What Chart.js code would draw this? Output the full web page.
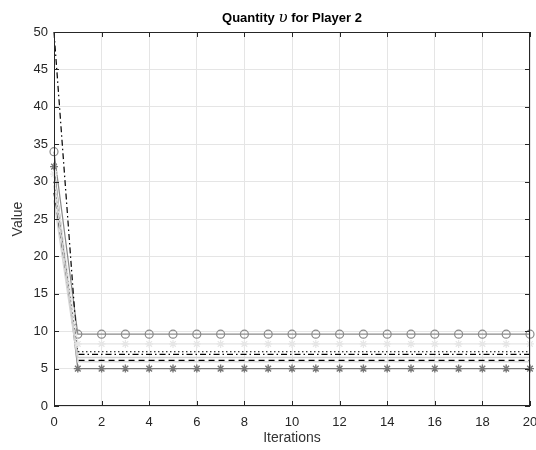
<!DOCTYPE html>
<html>
<head>
<meta charset="utf-8">
<script src="https://cdn.jsdelivr.net/npm/chart.js@4"></script>
<style>
  html, body { margin: 0; padding: 0; background: #fff; }
  #wrap { width: 536px; height: 450px; }
</style>
</head>
<body>
<div id="wrap"><canvas id="myChart"></canvas></div>
<script>
"use strict";

// iterations 0..20
const iterations = [0, 1, 2, 3, 4, 5, 6, 7, 8, 9, 10, 11, 12, 13, 14, 15, 16, 17, 18, 19, 20];

// start value, then the flat level reached after the first iteration
const circleSeries   = [34.0, 9.6, 9.6, 9.6, 9.6, 9.6, 9.6, 9.6, 9.6, 9.6, 9.6, 9.6, 9.6, 9.6, 9.6, 9.6, 9.6, 9.6, 9.6, 9.6, 9.6];
const faintStar      = [31.0, 8.3, 8.3, 8.3, 8.3, 8.3, 8.3, 8.3, 8.3, 8.3, 8.3, 8.3, 8.3, 8.3, 8.3, 8.3, 8.3, 8.3, 8.3, 8.3, 8.3];
const dottedSeries   = [30.0, 7.25, 7.25, 7.25, 7.25, 7.25, 7.25, 7.25, 7.25, 7.25, 7.25, 7.25, 7.25, 7.25, 7.25, 7.25, 7.25, 7.25, 7.25, 7.25, 7.25];
const dashDotSeries  = [50.0, 6.9, 6.9, 6.9, 6.9, 6.9, 6.9, 6.9, 6.9, 6.9, 6.9, 6.9, 6.9, 6.9, 6.9, 6.9, 6.9, 6.9, 6.9, 6.9, 6.9];
const lightSeries1   = [29.5, 6.5, 6.5, 6.5, 6.5, 6.5, 6.5, 6.5, 6.5, 6.5, 6.5, 6.5, 6.5, 6.5, 6.5, 6.5, 6.5, 6.5, 6.5, 6.5, 6.5];
const dashedSeries   = [28.5, 6.1, 6.1, 6.1, 6.1, 6.1, 6.1, 6.1, 6.1, 6.1, 6.1, 6.1, 6.1, 6.1, 6.1, 6.1, 6.1, 6.1, 6.1, 6.1, 6.1];
const lightSeries2   = [27.5, 5.9, 5.9, 5.9, 5.9, 5.9, 5.9, 5.9, 5.9, 5.9, 5.9, 5.9, 5.9, 5.9, 5.9, 5.9, 5.9, 5.9, 5.9, 5.9, 5.9];
const starSeries     = [32.0, 5.0, 5.0, 5.0, 5.0, 5.0, 5.0, 5.0, 5.0, 5.0, 5.0, 5.0, 5.0, 5.0, 5.0, 5.0, 5.0, 5.0, 5.0, 5.0, 5.0];

const xTicks = [0, 2, 4, 6, 8, 10, 12, 14, 16, 18, 20];
const yTicks = [0, 5, 10, 15, 20, 25, 30, 35, 40, 45, 50];

function pts(arr) {
	return arr.map(function (v, i) { return { x: iterations[i], y: v }; });
}

function line(data, color, opts) {
	return Object.assign({
		data: pts(data),
		borderColor: color,
		backgroundColor: 'rgba(0,0,0,0)',
		pointBorderColor: color,
		borderWidth: 1.2,
		pointRadius: 0,
		tension: 0,
		clip: false
	}, opts || {});
}

// MATLAB-like box, inward ticks and mixed-font title
const boxPlugin = {
	id: 'box',
	afterDraw: function (chart) {
		const c = chart.ctx, a = chart.chartArea;
		const xs = chart.scales.x, ys = chart.scales.y;
		c.save();
		c.strokeStyle = '#262626';
		c.lineWidth = 1;
		c.strokeRect(a.left + 0.5, a.top + 0.5, a.right - a.left - 1, a.bottom - a.top - 1);
		c.beginPath();
		xTicks.forEach(function (t) {
			const px = Math.round(xs.getPixelForValue(t)) + 0.5;
			c.moveTo(px, a.bottom); c.lineTo(px, a.bottom - 5);
			c.moveTo(px, a.top); c.lineTo(px, a.top + 5);
		});
		yTicks.forEach(function (t) {
			const py = Math.round(ys.getPixelForValue(t)) + 0.5;
			c.moveTo(a.left, py); c.lineTo(a.left + 5, py);
			c.moveTo(a.right, py); c.lineTo(a.right - 5, py);
		});
		c.stroke();

		// title
		const parts = [
			{ t: 'Quantity ', f: 'bold 13px "Liberation Sans", Arial, sans-serif' },
			{ t: '\u03C5', f: 'italic 15px "DejaVu Serif", "Liberation Serif", serif' },
			{ t: ' for Player 2', f: 'bold 13px "Liberation Sans", Arial, sans-serif' }
		];
		let total = 0;
		parts.forEach(function (p) { c.font = p.f; p.w = c.measureText(p.t).width; total += p.w; });
		let x = (a.left + a.right) / 2 - total / 2;
		c.fillStyle = '#000';
		c.textBaseline = 'alphabetic';
		parts.forEach(function (p) { c.font = p.f; c.fillText(p.t, x, 22); x += p.w; });
		c.restore();
	}
};

const ctx = document.getElementById('myChart');

new Chart(ctx, {
	type: 'line',
	data: {
		datasets: [
			line(faintStar, '#e6e6e6', { pointStyle: 'star', pointRadius: 4, pointBorderWidth: 1.2 }),
			line(lightSeries1, '#cfcfcf', { borderWidth: 1.5 }),
			line(lightSeries2, '#d6d6d6', { borderWidth: 1.5 }),
			line(dottedSeries, '#000000', { borderDash: [1.5, 2.5] }),
			line(dashedSeries, '#000000', { borderDash: [6, 4] }),
			line(dashDotSeries, '#000000', { borderDash: [6, 3, 1.5, 3] }),
			line(circleSeries, '#8a8a8a', { pointStyle: 'circle', pointRadius: 4, pointBorderWidth: 1.2 }),
			line(starSeries, '#777777', { pointStyle: 'star', pointRadius: 4, pointBorderWidth: 1.4 })
		]
	},
	options: {
		responsive: true,
		maintainAspectRatio: false,
		animation: false,
		layout: { padding: { top: 32, right: 6, left: 0, bottom: 0 } },
		plugins: {
			legend: { display: false },
			title: { display: false },
			tooltip: { enabled: false }
		},
		scales: {
			x: {
				type: 'linear',
				min: 0,
				max: 20,
				afterBuildTicks: function (s) { s.ticks = xTicks.map(function (v) { return { value: v }; }); },
				afterFit: function (s) { s.height = 44; s.paddingLeft = 0; s.paddingRight = 0; },
				grid: { color: '#e5e5e5', drawTicks: false },
				border: { display: false },
				ticks: { color: '#262626', font: { family: '"Liberation Sans", Arial, sans-serif', size: 13 }, padding: 9, maxRotation: 0 },
				title: { display: true, text: 'Iterations', color: '#333', font: { family: '"Liberation Sans", Arial, sans-serif', size: 14 }, padding: { top: 0, bottom: 3 } }
			},
			y: {
				min: 0,
				max: 50,
				afterBuildTicks: function (s) { s.ticks = yTicks.map(function (v) { return { value: v }; }); },
				afterFit: function (s) { s.width = 54; s.paddingTop = 0; s.paddingBottom = 0; },
				grid: { color: '#e5e5e5', drawTicks: false },
				border: { display: false },
				ticks: { color: '#262626', font: { family: '"Liberation Sans", Arial, sans-serif', size: 13 }, padding: 6 },
				title: { display: true, text: 'Value', color: '#333', font: { family: '"Liberation Sans", Arial, sans-serif', size: 14 }, padding: { top: 10, bottom: 0 } }
			}
		}
	},
	plugins: [boxPlugin]
});
</script>
</body>
</html>
